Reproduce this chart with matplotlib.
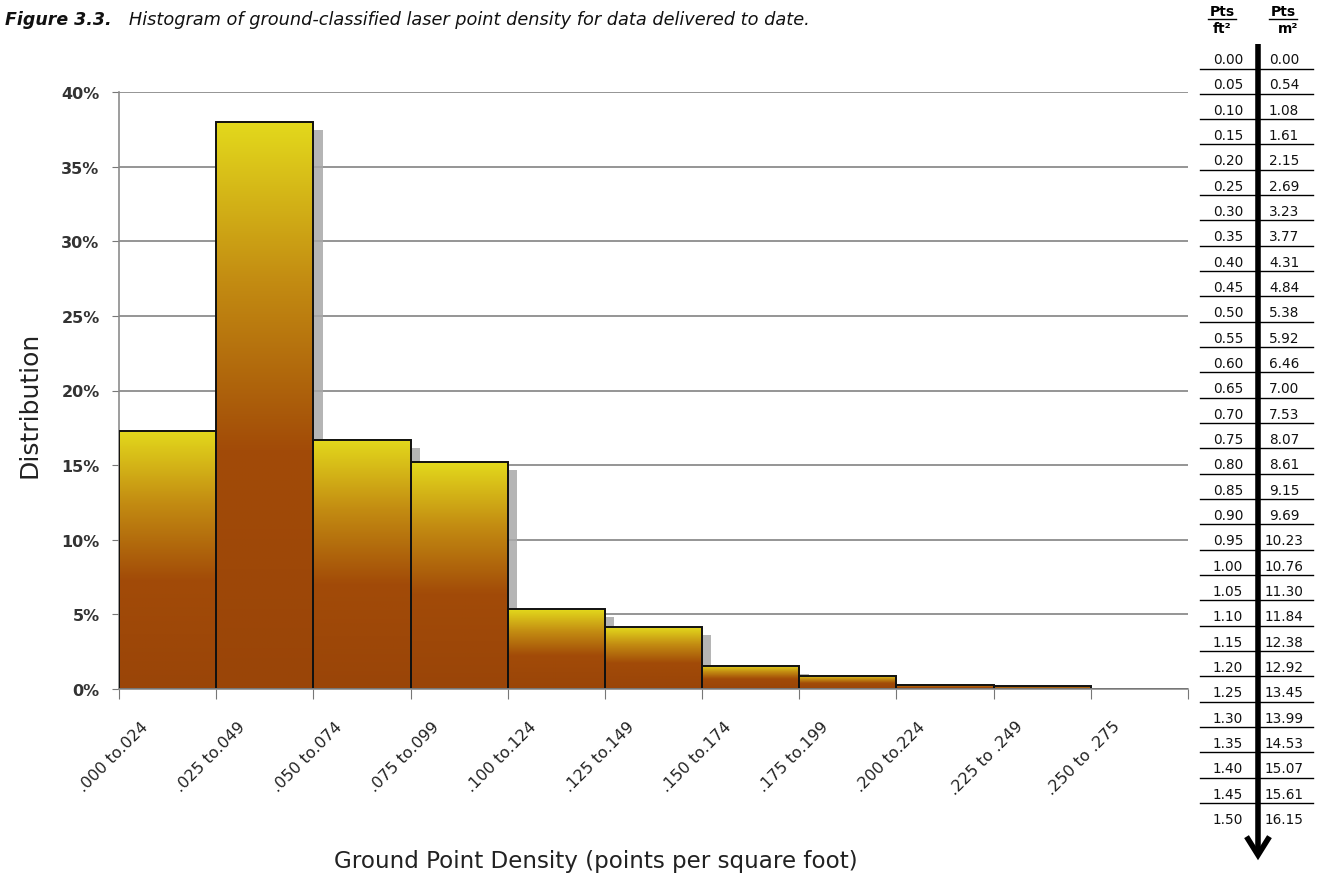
import numpy as np
import matplotlib.pyplot as plt
from matplotlib.colors import LinearSegmentedColormap

plt.rc('font', family='DejaVu Sans')

# histogram data (percent of ground points)
bins = ['.000 to.024', '.025 to.049', '.050 to.074', '.075 to.099', '.100 to.124',
        '.125 to.149', '.150 to.174', '.175 to.199', '.200 to.224', '.225 to .249',
        '.250 to .275']
dist = [17.3, 38.0, 16.7, 15.2, 5.35, 4.15, 1.55, 0.88, 0.3, 0.18, 0.0]
yticks = [0, 5, 10, 15, 20, 25, 30, 35, 40]

# conversion table
pts_ft2 = ['0.00', '0.05', '0.10', '0.15', '0.20', '0.25', '0.30', '0.35', '0.40', '0.45',
           '0.50', '0.55', '0.60', '0.65', '0.70', '0.75', '0.80', '0.85', '0.90', '0.95',
           '1.00', '1.05', '1.10', '1.15', '1.20', '1.25', '1.30', '1.35', '1.40', '1.45',
           '1.50']
pts_m2 = ['0.00', '0.54', '1.08', '1.61', '2.15', '2.69', '3.23', '3.77', '4.31', '4.84',
          '5.38', '5.92', '6.46', '7.00', '7.53', '8.07', '8.61', '9.15', '9.69', '10.23',
          '10.76', '11.30', '11.84', '12.38', '12.92', '13.45', '13.99', '14.53', '15.07',
          '15.61', '16.15']

W, H = 1322, 895
fig = plt.figure(figsize=(W/100, H/100), dpi=100)
ax = fig.add_axes([119/W, 1-690/H, (1188-119)/W, (690-93)/H])

cmap = LinearSegmentedColormap.from_list('bar', [
    (0.0, '#9a4508'), (0.42, '#a24b08'), (0.72, '#c38c12'), (1.0, '#e3d91c')])
grad = np.linspace(0, 1, 256).reshape(-1, 1)

x = np.arange(len(dist))
# shadows
for i, v in enumerate(dist):
    if v > 0:
        ax.bar(i + 0.5 + 0.095, v, width=1.0, bottom=-0.55, color='#a8a8a8',
               alpha=0.85, zorder=2, linewidth=0)
# gradient fill
for i, v in enumerate(dist):
    if v > 0:
        ax.imshow(grad, cmap=cmap, origin='lower', aspect='auto',
                  extent=(i, i + 1, 0, v), zorder=3, interpolation='bilinear')
ax.bar(x + 0.5, dist, width=1.0, facecolor='none', edgecolor='#111111',
       linewidth=1.4, zorder=4)

ax.set_xlim(0, len(dist))
ax.set_ylim(0, 40)
ax.set_yticks(yticks)
ax.set_yticklabels([f'{t}%' for t in yticks], fontsize=11.5, fontweight='bold',
                   color='#333333')
ax.yaxis.grid(True, color='#8c8c8c', linewidth=1.3, zorder=1)
ax.set_axisbelow(True)
ax.set_xticks(np.arange(len(dist) + 1))
ax.set_xticklabels([])
# labels sit a little left of the bar centres, as in the original
ax.set_xticks(x + 0.22, minor=True)
ax.set_xticklabels(bins, minor=True, rotation=45, ha='right', va='top',
                   rotation_mode='anchor', fontsize=11.5, color='#222222')
ax.tick_params(axis='x', which='minor', length=0, pad=21)
ax.tick_params(axis='x', which='major', length=7, color='#777777', direction='out')
ax.tick_params(axis='y', length=5, color='#777777', pad=9)
for s in ['top', 'right']:
    ax.spines[s].set_visible(False)
for s in ['left', 'bottom']:
    ax.spines[s].set_color('#8c8c8c')
    ax.spines[s].set_linewidth(1.2)
ax.spines['bottom'].set_zorder(5)

fig.text(30/W, 1-405/H, 'Distribution', rotation=90, ha='center', va='center',
         fontsize=18, color='#222222')
fig.text(596/W, 1-862/H, 'Ground Point Density (points per square foot)',
         ha='center', va='center', fontsize=16.6, color='#222222')

# title
t1 = fig.text(5/W, 1-20/H, 'Figure 3.3.', fontsize=12.5, fontweight='bold',
              style='italic', va='center', color='#111111')
ax.annotate('   Histogram of ground-classified laser point density for data delivered to date.',
            xy=(1, 0), xycoords=t1, va='bottom', ha='left', fontsize=12.8,
            style='italic', color='#111111', annotation_clip=False)

# conversion table drawn in pixel coordinates
tab = fig.add_axes([0, 0, 1, 1], zorder=10)
tab.set_xlim(0, W)
tab.set_ylim(H, 0)
tab.axis('off')
c1, c2 = 1228, 1284
tab.text(1222, 12, 'Pts', ha='center', va='center', fontsize=10, fontweight='bold')
tab.text(1283, 12, 'Pts', ha='center', va='center', fontsize=10, fontweight='bold')
tab.plot([1208, 1236], [20, 20], color='black', lw=1)
tab.plot([1269, 1297], [20, 20], color='black', lw=1)
tab.text(1222, 29, 'ft²', ha='center', va='center', fontsize=10, fontweight='bold')
tab.text(1288, 29, 'm²', ha='center', va='center', fontsize=10, fontweight='bold')
y0, dy = 60, 25.33
for i, (a, b) in enumerate(zip(pts_ft2, pts_m2)):
    yy = y0 + i * dy
    tab.text(c1, yy, a, ha='center', va='center', fontsize=9.8, color='#111111')
    tab.text(c2, yy, b, ha='center', va='center', fontsize=9.8, color='#111111')
    if i < len(pts_ft2) - 1:
        tab.plot([1200, 1313], [yy + 9.5, yy + 9.5], color='black', lw=1)
tab.plot([1258, 1258], [45, 855], color='black', lw=4, solid_capstyle='butt')
tab.plot([1248, 1258, 1268], [840, 856, 840], color='black', lw=4,
         solid_joinstyle='miter')

fig.savefig('out.png', dpi=100)
